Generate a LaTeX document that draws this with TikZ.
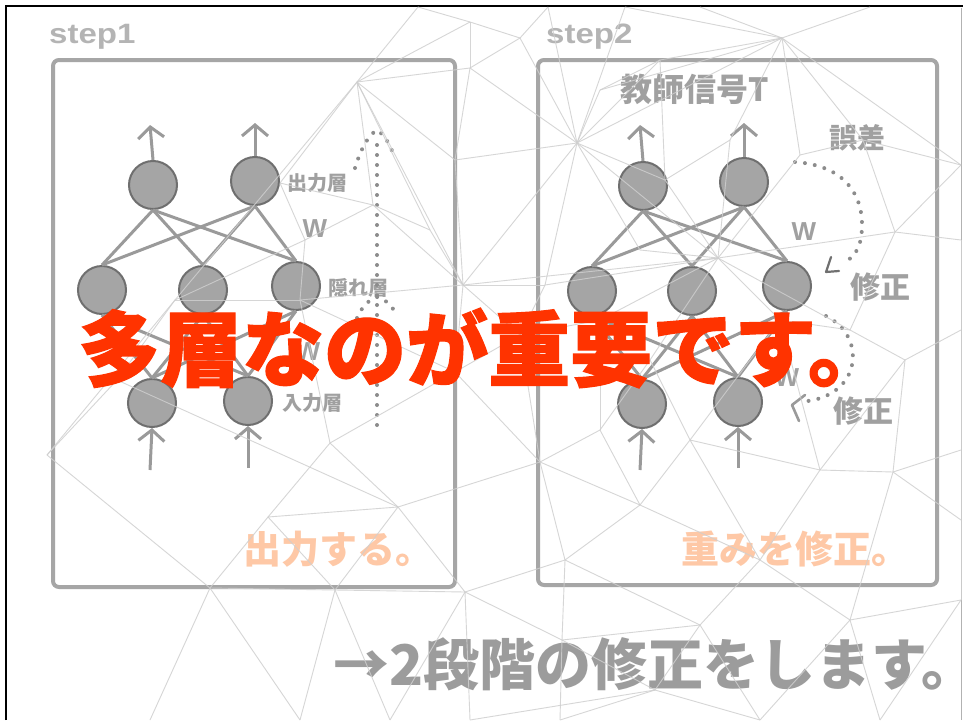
\documentclass[tikz,border=0pt]{standalone}
\usepackage{fontspec}
\setmainfont{Liberation Sans}
\newfontfamily\jp{Noto Sans CJK JP}
\newfontfamily\jpheavy{Noto Sans CJK JP}[BoldFeatures={FakeBold=1.5}]
\usetikzlibrary{arrows.meta}
\definecolor{boxcol}{HTML}{A6A6A6}
\definecolor{nodefill}{HTML}{A5A5A5}
\definecolor{nodeedge}{HTML}{6F6F6F}
\definecolor{conncol}{HTML}{9A9A9A}
\definecolor{labcol}{HTML}{A0A0A0}
\definecolor{steplab}{HTML}{B4B4B4}
\definecolor{dotcol}{HTML}{8C8C8C}
\definecolor{markcol}{HTML}{707070}
\definecolor{meshcol}{HTML}{CFCFCF}
\definecolor{bigred}{HTML}{FF3300}
\definecolor{softorange}{HTML}{FEC8A6}
\definecolor{bottomgray}{HTML}{9C9C9C}
\tikzset{
  panel/.style={draw=boxcol, line width=4pt, rounded corners=6pt},
  neuron/.style={circle, draw=nodeedge, fill=nodefill, line width=2pt, minimum size=48pt, inner sep=0pt},
  conn/.style={draw=conncol, line width=3pt},
  arr/.style={draw=conncol, line width=3pt, -{Straight Barb[length=11pt,width=26pt]}},
  dotline/.style={draw=dotcol, line width=4pt, line cap=round, dash pattern=on 0pt off 10pt},
  mesh/.style={draw=meshcol, line width=0.9pt},
  smalllab/.style={text=labcol, inner sep=0pt, font=\jp\bfseries\fontsize{20}{22}\selectfont},
  midlab/.style={text=labcol, inner sep=0pt, font=\jp\bfseries\fontsize{30}{33}\selectfont},
  wlab/.style={text=labcol, inner sep=0pt, font=\bfseries\fontsize{26}{28}\selectfont},
  steptitle/.style={text=steplab, inner sep=0pt, anchor=west, font=\bfseries\fontsize{28}{30}\selectfont},
  softlab/.style={text=softorange, inner sep=0pt, anchor=west, font=\jp\bfseries\fontsize{38}{42}\selectfont}
}
\begin{document}
\begin{tikzpicture}[x=1pt,y=-1pt]
\useasboundingbox (0,0) rectangle (963,720);
\fill[white] (0,0) rectangle (963,720);
% frame
\draw[black, line width=2.5pt] (6,720) -- (6,6) -- (963,6);
\draw[gray!60, line width=1pt] (961,8) -- (961,720);

% panels
\draw[panel] (53,60) rectangle (455,587);
\draw[panel] (538,60) rectangle (937,585);
\node[steptitle] (st1) at (49,37) {\scalebox{1.18}[1]{step1}};
\node[steptitle] (st2) at (546,37) {\scalebox{1.18}[1]{step2}};

% ---------- step 1 network ----------
\node[neuron] (ao1) at (153,185) {};
\node[neuron] (ao2) at (255,181) {};
\node[neuron] (ah1) at (102,290) {};
\node[neuron] (ah2) at (203,290) {};
\node[neuron] (ah3) at (296,286) {};
\node[neuron] (ai1) at (152,403) {};
\node[neuron] (ai2) at (248,401) {};
\foreach \o in {ao1,ao2}{\foreach \h in {ah1,ah2,ah3}{\draw[conn] (\o.south) -- (\h.north);}}
\foreach \h in {ah1,ah2,ah3}{\foreach \i in {ai1,ai2}{\draw[conn] (\h.south) -- (\i.north);}}
\coordinate (at1) at (150,125);
\coordinate (at2) at (255,123);
\coordinate (ab1) at (150,470);
\coordinate (ab2) at (248,468);
\draw[arr] (ao1.north) -- (at1);
\draw[arr] (ao2.north) -- (at2);
\draw[arr] (ab1) -- (ai1.south);
\draw[arr] (ab2) -- (ai2.south);
\node[smalllab] (l1a) at (317,183) {出力層};
\node[smalllab] (l1b) at (358,288) {隠れ層};
\node[smalllab] (l1c) at (312,403) {入力層};
\node[wlab] (w1a) at (315,229) {W};
\node[wlab] (w1b) at (308,352) {W};
\coordinate (d1b) at (377,425);
\coordinate (d1t) at (377,138);
\draw[dotline] (d1b) -- (d1t);
\draw[dotline] (355,168) .. controls (362,145) and (370,134) .. (377,130) .. controls (385,135) and (390,145) .. (395,158);
\draw[dotline] (357,318) .. controls (362,306) and (370,299) .. (377,297) .. controls (385,299) and (391,305) .. (395,312);

% ---------- step 2 network ----------
\node[neuron] (bo1) at (643,186) {};
\node[neuron] (bo2) at (744,182) {};
\node[neuron] (bh1) at (592,291) {};
\node[neuron] (bh2) at (692,291) {};
\node[neuron] (bh3) at (787,286) {};
\node[neuron] (bi1) at (642,404) {};
\node[neuron] (bi2) at (738,402) {};
\foreach \o in {bo1,bo2}{\foreach \h in {bh1,bh2,bh3}{\draw[conn] (\o.south) -- (\h.north);}}
\foreach \h in {bh1,bh2,bh3}{\foreach \i in {bi1,bi2}{\draw[conn] (\h.south) -- (\i.north);}}
\coordinate (bt1) at (640,125);
\coordinate (bt2) at (744,123);
\coordinate (bb1) at (640,470);
\coordinate (bb2) at (738,468);
\draw[arr] (bo1.north) -- (bt1);
\draw[arr] (bo2.north) -- (bt2);
\draw[arr] (bb1) -- (bi1.south);
\draw[arr] (bb2) -- (bi2.south);
\node[midlab, font=\jp\bfseries\fontsize{32}{35}\selectfont] (teach) at (695,89) {教師信号T};
\node[midlab, font=\jp\bfseries\fontsize{28}{31}\selectfont] (err) at (857,138) {誤差};
\node[midlab] (fix1) at (880,287) {修正};
\node[midlab] (fix2) at (863,411) {修正};
\node[wlab] (w2a) at (804,232) {W};
\node[wlab] (w2b) at (787,378) {W};
\draw[dotline] (795,162) .. controls (840,165) and (862,190) .. (862,225) .. controls (862,245) and (856,256) .. (845,262);
\draw[markcol, line width=2.2pt, line cap=round, line join=round] (831,257) -- (826,272) -- (839,271);
\draw[dotline] (826,316) .. controls (846,326) and (856,345) .. (852,365) .. controls (848,385) and (830,398) .. (808,401);
\draw[conncol, line width=2.6pt, line cap=round, line join=round] (805,395) -- (792,405) -- (799,421);

% soft orange labels
\node[softlab] (out1) at (243,549) {出力する。};
\node[softlab] (out2) at (681,549) {重みを修正。};
% bottom text
\node[anchor=west, text=bottomgray, inner sep=0pt, font=\jp\bfseries\fontsize{56}{60}\selectfont] (bottom) at (333,664) {→2段階の修正をします。};

% ---------- background mesh ----------
\coordinate (m1) at (357,82);
\coordinate (m2) at (463,285);
\coordinate (m3) at (577,143);
\coordinate (m4) at (782,38);
\coordinate (m5) at (718,258);
\coordinate (m6) at (373,205);
\coordinate (m7) at (280,183);
\coordinate (m8) at (305,240);
\coordinate (m9) at (418,7);
\coordinate (m10) at (470,22);
\coordinate (m11) at (470,68);
\coordinate (m12) at (455,160);
\coordinate (m13) at (520,38);
\coordinate (m14) at (548,7);
\coordinate (m15) at (625,7);
\coordinate (m16) at (660,60);
\coordinate (m17) at (700,7);
\coordinate (m18) at (870,7);
\coordinate (m19) at (961,165);
\coordinate (m20) at (863,140);
\coordinate (m21) at (800,155);
\coordinate (m22) at (895,232);
\coordinate (m23) at (961,240);
\coordinate (m24) at (961,330);
\coordinate (m25) at (905,360);
\coordinate (m26) at (850,330);
\coordinate (m27) at (780,320);
\coordinate (m28) at (650,360);
\coordinate (m29) at (600,320);
\coordinate (m30) at (545,285);
\coordinate (m31) at (520,335);
\coordinate (m32) at (455,372);
\coordinate (m33) at (300,300);
\coordinate (m34) at (175,300);
\coordinate (m35) at (47,455);
\coordinate (m36) at (117,380);
\coordinate (m37) at (268,517);
\coordinate (m38) at (398,507);
\coordinate (m39) at (330,443);
\coordinate (m40) at (540,462);
\coordinate (m41) at (600,430);
\coordinate (m42) at (640,505);
\coordinate (m43) at (690,440);
\coordinate (m44) at (760,560);
\coordinate (m45) at (820,470);
\coordinate (m46) at (893,472);
\coordinate (m47) at (961,450);
\coordinate (m48) at (850,620);
\coordinate (m49) at (961,600);
\coordinate (m50) at (700,625);
\coordinate (m51) at (562,640);
\coordinate (m52) at (465,592);
\coordinate (m53) at (335,590);
\coordinate (m54) at (210,588);
\coordinate (m55) at (300,720);
\coordinate (m56) at (390,720);
\coordinate (m57) at (470,720);
\coordinate (m58) at (560,720);
\coordinate (m59) at (655,690);
\coordinate (m60) at (760,720);
\coordinate (m61) at (880,720);
\coordinate (m62) at (565,560);
\coordinate (m63) at (640,250);
\coordinate (m64) at (665,180);
\coordinate (m65) at (730,140);
\coordinate (m66) at (430,230);
\coordinate (m67) at (150,720);
\coordinate (m68) at (961,520);
\coordinate (m69) at (600,90);
\foreach \a/\b in {m1/m9,m1/m10,m1/m11,m1/m12,m1/m6,m1/m7,m1/m34,m1/m2,m1/m66,
  m9/m10,m10/m11,m10/m13,m11/m13,m11/m3,m12/m3,m12/m2,m11/m12,
  m6/m7,m6/m8,m6/m66,m66/m2,m6/m2,m7/m8,m8/m33,m8/m34,m33/m2,m33/m34,m33/m32,m33/m39,
  m13/m14,m13/m3,m14/m3,m15/m3,m16/m3,m69/m3,m69/m16,m3/m64,m3/m63,m3/m30,m3/m2,m3/m5,m3/m4,
  m4/m15,m4/m17,m4/m16,m4/m18,m4/m20,m4/m21,m4/m65,m4/m19,m4/m69,
  m16/m64,m64/m65,m65/m5,m64/m5,m63/m5,m21/m5,m20/m21,m20/m22,m20/m19,m19/m22,m22/m23,m22/m5,m22/m26,
  m23/m24,m24/m25,m25/m26,m26/m5,m26/m27,m27/m5,m28/m5,m29/m5,m30/m5,m2/m5,
  m25/m46,m46/m47,m47/m24,m45/m46,m45/m25,m45/m27,m45/m43,m27/m43,m28/m43,m28/m41,m29/m41,m29/m31,
  m30/m31,m30/m2,m31/m2,m31/m32,m32/m2,m31/m40,m41/m40,m40/m32,m32/m39,m39/m38,m39/m37,
  m36/m35,m36/m34,m36/m38,m35/m34,m35/m54,m37/m54,m37/m38,m37/m53,m38/m53,m38/m52,m38/m40,
  m40/m62,m40/m42,m42/m41,m42/m43,m42/m62,m42/m44,m43/m44,m44/m45,m44/m48,m44/m50,
  m46/m48,m46/m68,m47/m68,m68/m49,m48/m49,m48/m61,m48/m60,m50/m62,m50/m51,m50/m59,m50/m60,
  m51/m62,m51/m52,m51/m59,m51/m58,m52/m53,m52/m62,m52/m56,m52/m57,m53/m54,m53/m55,m53/m56,
  m54/m55,m54/m67,m59/m57,m59/m58,m59/m60,m61/m49}
  {\draw[mesh, opacity=0.85] (\a) -- (\b);}

% big red headline
\node[anchor=west, text=bigred, inner sep=0pt, font=\jpheavy\bfseries\fontsize{82}{90}\selectfont] (big) at (78,348) {多層なのが重要です。};
\end{tikzpicture}
\end{document}
